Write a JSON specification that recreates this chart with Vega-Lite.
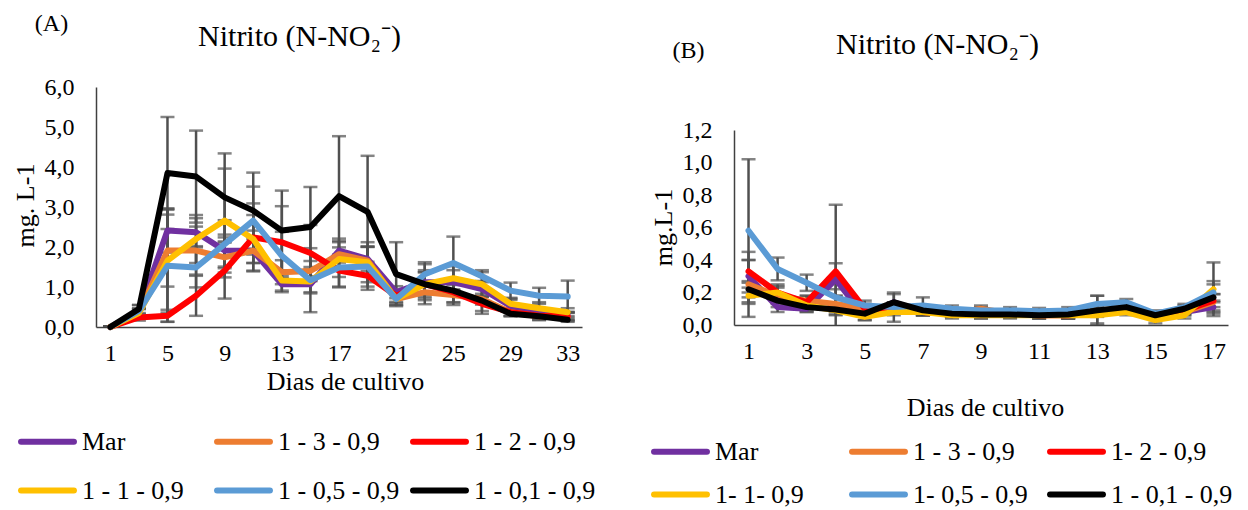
{
  "$schema": "https://vega.github.io/schema/vega-lite/v6.json",
  "background": "white",
  "padding": {"left": 12, "top": 11, "right": 0, "bottom": 0},
  "bounds": "flush",
  "spacing": 152,
  "config": {
    "font": "'Liberation Serif', 'Times New Roman', Times, serif",
    "view": {"stroke": null},
    "axis": {"grid": false, "ticks": false, "domainColor": "#404040", "domainWidth": 1.5, "labelFont": "'Liberation Serif', 'Times New Roman', Times, serif", "labelFontSize": 24, "labelColor": "#000000", "titleFont": "'Liberation Serif', 'Times New Roman', Times, serif", "titleFontSize": 26, "titleFontWeight": "normal", "titleColor": "#000000"},
    "legend": {"labelFont": "'Liberation Serif', 'Times New Roman', Times, serif", "labelFontSize": 26, "labelColor": "#000000", "labelLimit": 0}
  },
  "datasets": {
    "A": [
      {"d":1,"s":"Mar","v":0,"e":0.02},{"d":3,"s":"Mar","v":0.37,"e":0.1},{"d":5,"s":"Mar","v":2.41,"e":0.55},{"d":7,"s":"Mar","v":2.37,"e":0.35},{"d":9,"s":"Mar","v":1.91,"e":0.4},{"d":11,"s":"Mar","v":1.9,"e":0.3},{"d":13,"s":"Mar","v":1.07,"e":0.2},{"d":15,"s":"Mar","v":1.07,"e":0.2},{"d":17,"s":"Mar","v":1.91,"e":0.3},{"d":19,"s":"Mar","v":1.7,"e":0.3},{"d":21,"s":"Mar","v":0.87,"e":0.15},{"d":23,"s":"Mar","v":1.12,"e":0.25},{"d":25,"s":"Mar","v":1.12,"e":0.3},{"d":27,"s":"Mar","v":0.95,"e":0.2},{"d":29,"s":"Mar","v":0.53,"e":0.15},{"d":31,"s":"Mar","v":0.37,"e":0.1},{"d":33,"s":"Mar","v":0.28,"e":0.1},
      {"d":1,"s":"1 - 3 - 0,9","v":0,"e":0.02},{"d":3,"s":"1 - 3 - 0,9","v":0.35,"e":0.1},{"d":5,"s":"1 - 3 - 0,9","v":1.91,"e":0.9},{"d":7,"s":"1 - 3 - 0,9","v":1.91,"e":0.6},{"d":9,"s":"1 - 3 - 0,9","v":1.74,"e":0.5},{"d":11,"s":"1 - 3 - 0,9","v":1.91,"e":0.5},{"d":13,"s":"1 - 3 - 0,9","v":1.37,"e":0.3},{"d":15,"s":"1 - 3 - 0,9","v":1.4,"e":0.25},{"d":17,"s":"1 - 3 - 0,9","v":1.82,"e":0.3},{"d":19,"s":"1 - 3 - 0,9","v":1.66,"e":0.35},{"d":21,"s":"1 - 3 - 0,9","v":0.7,"e":0.1},{"d":23,"s":"1 - 3 - 0,9","v":0.87,"e":0.2},{"d":25,"s":"1 - 3 - 0,9","v":0.8,"e":0.25},{"d":27,"s":"1 - 3 - 0,9","v":0.7,"e":0.3},{"d":29,"s":"1 - 3 - 0,9","v":0.37,"e":0.1},{"d":31,"s":"1 - 3 - 0,9","v":0.27,"e":0.1},{"d":33,"s":"1 - 3 - 0,9","v":0.25,"e":0.1},
      {"d":1,"s":"1 - 2 - 0,9","v":0,"e":0.02},{"d":3,"s":"1 - 2 - 0,9","v":0.24,"e":0.08},{"d":5,"s":"1 - 2 - 0,9","v":0.28,"e":0.15},{"d":7,"s":"1 - 2 - 0,9","v":0.78,"e":0.5},{"d":9,"s":"1 - 2 - 0,9","v":1.41,"e":0.7},{"d":11,"s":"1 - 2 - 0,9","v":2.24,"e":0.85},{"d":13,"s":"1 - 2 - 0,9","v":2.12,"e":0.9},{"d":15,"s":"1 - 2 - 0,9","v":1.85,"e":0.7},{"d":17,"s":"1 - 2 - 0,9","v":1.41,"e":0.4},{"d":19,"s":"1 - 2 - 0,9","v":1.28,"e":0.35},{"d":21,"s":"1 - 2 - 0,9","v":0.78,"e":0.15},{"d":23,"s":"1 - 2 - 0,9","v":1.07,"e":0.35},{"d":25,"s":"1 - 2 - 0,9","v":0.87,"e":0.25},{"d":27,"s":"1 - 2 - 0,9","v":0.58,"e":0.25},{"d":29,"s":"1 - 2 - 0,9","v":0.37,"e":0.1},{"d":31,"s":"1 - 2 - 0,9","v":0.28,"e":0.1},{"d":33,"s":"1 - 2 - 0,9","v":0.27,"e":0.1},
      {"d":1,"s":"1 - 1 - 0,9","v":0,"e":0.02},{"d":3,"s":"1 - 1 - 0,9","v":0.35,"e":0.1},{"d":5,"s":"1 - 1 - 0,9","v":1.66,"e":1.3},{"d":7,"s":"1 - 1 - 0,9","v":2.2,"e":0.6},{"d":9,"s":"1 - 1 - 0,9","v":2.66,"e":1.3},{"d":11,"s":"1 - 1 - 0,9","v":2.2,"e":0.6},{"d":13,"s":"1 - 1 - 0,9","v":1.16,"e":0.25},{"d":15,"s":"1 - 1 - 0,9","v":1.14,"e":0.3},{"d":17,"s":"1 - 1 - 0,9","v":1.7,"e":0.45},{"d":19,"s":"1 - 1 - 0,9","v":1.62,"e":0.5},{"d":21,"s":"1 - 1 - 0,9","v":0.7,"e":0.15},{"d":23,"s":"1 - 1 - 0,9","v":1.07,"e":0.5},{"d":25,"s":"1 - 1 - 0,9","v":1.22,"e":0.3},{"d":27,"s":"1 - 1 - 0,9","v":1.07,"e":0.3},{"d":29,"s":"1 - 1 - 0,9","v":0.58,"e":0.15},{"d":31,"s":"1 - 1 - 0,9","v":0.47,"e":0.15},{"d":33,"s":"1 - 1 - 0,9","v":0.37,"e":0.1},
      {"d":1,"s":"1 - 0,5 - 0,9","v":0,"e":0.02},{"d":3,"s":"1 - 0,5 - 0,9","v":0.4,"e":0.15},{"d":5,"s":"1 - 0,5 - 0,9","v":1.53,"e":1.4},{"d":7,"s":"1 - 0,5 - 0,9","v":1.49,"e":0.5},{"d":9,"s":"1 - 0,5 - 0,9","v":2.07,"e":0.6},{"d":11,"s":"1 - 0,5 - 0,9","v":2.66,"e":0.85},{"d":13,"s":"1 - 0,5 - 0,9","v":1.78,"e":0.6},{"d":15,"s":"1 - 0,5 - 0,9","v":1.17,"e":0.8},{"d":17,"s":"1 - 0,5 - 0,9","v":1.49,"e":0.5},{"d":19,"s":"1 - 0,5 - 0,9","v":1.51,"e":0.5},{"d":21,"s":"1 - 0,5 - 0,9","v":0.7,"e":0.15},{"d":23,"s":"1 - 0,5 - 0,9","v":1.32,"e":0.3},{"d":25,"s":"1 - 0,5 - 0,9","v":1.6,"e":0.66},{"d":27,"s":"1 - 0,5 - 0,9","v":1.27,"e":0.15},{"d":29,"s":"1 - 0,5 - 0,9","v":0.91,"e":0.2},{"d":31,"s":"1 - 0,5 - 0,9","v":0.78,"e":0.2},{"d":33,"s":"1 - 0,5 - 0,9","v":0.76,"e":0.4},
      {"d":1,"s":"1 - 0,1 - 0,9","v":0,"e":0.02},{"d":3,"s":"1 - 0,1 - 0,9","v":0.45,"e":0.1},{"d":5,"s":"1 - 0,1 - 0,9","v":3.85,"e":1.4},{"d":7,"s":"1 - 0,1 - 0,9","v":3.76,"e":1.15},{"d":9,"s":"1 - 0,1 - 0,9","v":3.24,"e":1.1},{"d":11,"s":"1 - 0,1 - 0,9","v":2.91,"e":0.95},{"d":13,"s":"1 - 0,1 - 0,9","v":2.41,"e":1.0},{"d":15,"s":"1 - 0,1 - 0,9","v":2.5,"e":1.0},{"d":17,"s":"1 - 0,1 - 0,9","v":3.27,"e":1.5},{"d":19,"s":"1 - 0,1 - 0,9","v":2.88,"e":1.4},{"d":21,"s":"1 - 0,1 - 0,9","v":1.32,"e":0.8},{"d":23,"s":"1 - 0,1 - 0,9","v":1.07,"e":0.3},{"d":25,"s":"1 - 0,1 - 0,9","v":0.91,"e":0.3},{"d":27,"s":"1 - 0,1 - 0,9","v":0.66,"e":0.1},{"d":29,"s":"1 - 0,1 - 0,9","v":0.33,"e":0.05},{"d":31,"s":"1 - 0,1 - 0,9","v":0.27,"e":0.05},{"d":33,"s":"1 - 0,1 - 0,9","v":0.18,"e":0.05}
    ],
    "B": [
      {"d":1,"s":"Mar","v":0.3,"e":0.1},{"d":2,"s":"Mar","v":0.11,"e":0.03},{"d":3,"s":"Mar","v":0.1,"e":0.02},{"d":4,"s":"Mar","v":0.28,"e":0.1},{"d":5,"s":"Mar","v":0.05,"e":0.02},{"d":6,"s":"Mar","v":0.14,"e":0.05},{"d":7,"s":"Mar","v":0.08,"e":0.02},{"d":8,"s":"Mar","v":0.07,"e":0.02},{"d":9,"s":"Mar","v":0.06,"e":0.02},{"d":10,"s":"Mar","v":0.07,"e":0.02},{"d":11,"s":"Mar","v":0.07,"e":0.02},{"d":12,"s":"Mar","v":0.06,"e":0.02},{"d":13,"s":"Mar","v":0.08,"e":0.02},{"d":14,"s":"Mar","v":0.11,"e":0.02},{"d":15,"s":"Mar","v":0.05,"e":0.02},{"d":16,"s":"Mar","v":0.08,"e":0.02},{"d":17,"s":"Mar","v":0.11,"e":0.03},
      {"d":1,"s":"1 - 3 - 0,9","v":0.25,"e":0.2},{"d":2,"s":"1 - 3 - 0,9","v":0.18,"e":0.05},{"d":3,"s":"1 - 3 - 0,9","v":0.15,"e":0.03},{"d":4,"s":"1 - 3 - 0,9","v":0.13,"e":0.05},{"d":5,"s":"1 - 3 - 0,9","v":0.1,"e":0.03},{"d":6,"s":"1 - 3 - 0,9","v":0.08,"e":0.02},{"d":7,"s":"1 - 3 - 0,9","v":0.08,"e":0.02},{"d":8,"s":"1 - 3 - 0,9","v":0.07,"e":0.02},{"d":9,"s":"1 - 3 - 0,9","v":0.1,"e":0.02},{"d":10,"s":"1 - 3 - 0,9","v":0.07,"e":0.02},{"d":11,"s":"1 - 3 - 0,9","v":0.07,"e":0.02},{"d":12,"s":"1 - 3 - 0,9","v":0.06,"e":0.02},{"d":13,"s":"1 - 3 - 0,9","v":0.08,"e":0.02},{"d":14,"s":"1 - 3 - 0,9","v":0.1,"e":0.02},{"d":15,"s":"1 - 3 - 0,9","v":0.06,"e":0.02},{"d":16,"s":"1 - 3 - 0,9","v":0.08,"e":0.02},{"d":17,"s":"1 - 3 - 0,9","v":0.14,"e":0.05},
      {"d":1,"s":"1- 2 - 0,9","v":0.33,"e":0.07},{"d":2,"s":"1- 2 - 0,9","v":0.2,"e":0.04},{"d":3,"s":"1- 2 - 0,9","v":0.14,"e":0.04},{"d":4,"s":"1- 2 - 0,9","v":0.33,"e":0.41},{"d":5,"s":"1- 2 - 0,9","v":0.1,"e":0.03},{"d":6,"s":"1- 2 - 0,9","v":0.1,"e":0.02},{"d":7,"s":"1- 2 - 0,9","v":0.08,"e":0.02},{"d":8,"s":"1- 2 - 0,9","v":0.07,"e":0.02},{"d":9,"s":"1- 2 - 0,9","v":0.08,"e":0.02},{"d":10,"s":"1- 2 - 0,9","v":0.07,"e":0.02},{"d":11,"s":"1- 2 - 0,9","v":0.06,"e":0.02},{"d":12,"s":"1- 2 - 0,9","v":0.06,"e":0.02},{"d":13,"s":"1- 2 - 0,9","v":0.07,"e":0.02},{"d":14,"s":"1- 2 - 0,9","v":0.1,"e":0.02},{"d":15,"s":"1- 2 - 0,9","v":0.06,"e":0.02},{"d":16,"s":"1- 2 - 0,9","v":0.09,"e":0.02},{"d":17,"s":"1- 2 - 0,9","v":0.15,"e":0.04},
      {"d":1,"s":"1- 1- 0,9","v":0.18,"e":0.05},{"d":2,"s":"1- 1- 0,9","v":0.2,"e":0.05},{"d":3,"s":"1- 1- 0,9","v":0.12,"e":0.03},{"d":4,"s":"1- 1- 0,9","v":0.09,"e":0.03},{"d":5,"s":"1- 1- 0,9","v":0.05,"e":0.02},{"d":6,"s":"1- 1- 0,9","v":0.08,"e":0.06},{"d":7,"s":"1- 1- 0,9","v":0.08,"e":0.02},{"d":8,"s":"1- 1- 0,9","v":0.06,"e":0.02},{"d":9,"s":"1- 1- 0,9","v":0.06,"e":0.02},{"d":10,"s":"1- 1- 0,9","v":0.06,"e":0.02},{"d":11,"s":"1- 1- 0,9","v":0.06,"e":0.02},{"d":12,"s":"1- 1- 0,9","v":0.06,"e":0.02},{"d":13,"s":"1- 1- 0,9","v":0.06,"e":0.05},{"d":14,"s":"1- 1- 0,9","v":0.08,"e":0.02},{"d":15,"s":"1- 1- 0,9","v":0.03,"e":0.02},{"d":16,"s":"1- 1- 0,9","v":0.06,"e":0.02},{"d":17,"s":"1- 1- 0,9","v":0.22,"e":0.165},
      {"d":1,"s":"1- 0,5 - 0,9","v":0.58,"e":0.44},{"d":2,"s":"1- 0,5 - 0,9","v":0.345,"e":0.07},{"d":3,"s":"1- 0,5 - 0,9","v":0.26,"e":0.05},{"d":4,"s":"1- 0,5 - 0,9","v":0.17,"e":0.05},{"d":5,"s":"1- 0,5 - 0,9","v":0.12,"e":0.03},{"d":6,"s":"1- 0,5 - 0,9","v":0.11,"e":0.03},{"d":7,"s":"1- 0,5 - 0,9","v":0.12,"e":0.05},{"d":8,"s":"1- 0,5 - 0,9","v":0.1,"e":0.02},{"d":9,"s":"1- 0,5 - 0,9","v":0.09,"e":0.02},{"d":10,"s":"1- 0,5 - 0,9","v":0.09,"e":0.02},{"d":11,"s":"1- 0,5 - 0,9","v":0.085,"e":0.02},{"d":12,"s":"1- 0,5 - 0,9","v":0.09,"e":0.02},{"d":13,"s":"1- 0,5 - 0,9","v":0.13,"e":0.05},{"d":14,"s":"1- 0,5 - 0,9","v":0.14,"e":0.02},{"d":15,"s":"1- 0,5 - 0,9","v":0.07,"e":0.02},{"d":16,"s":"1- 0,5 - 0,9","v":0.11,"e":0.02},{"d":17,"s":"1- 0,5 - 0,9","v":0.2,"e":0.05},
      {"d":1,"s":"1 - 0,1 - 0,9","v":0.22,"e":0.05},{"d":2,"s":"1 - 0,1 - 0,9","v":0.15,"e":0.04},{"d":3,"s":"1 - 0,1 - 0,9","v":0.11,"e":0.03},{"d":4,"s":"1 - 0,1 - 0,9","v":0.095,"e":0.03},{"d":5,"s":"1 - 0,1 - 0,9","v":0.07,"e":0.02},{"d":6,"s":"1 - 0,1 - 0,9","v":0.14,"e":0.06},{"d":7,"s":"1 - 0,1 - 0,9","v":0.09,"e":0.03},{"d":8,"s":"1 - 0,1 - 0,9","v":0.07,"e":0.02},{"d":9,"s":"1 - 0,1 - 0,9","v":0.065,"e":0.02},{"d":10,"s":"1 - 0,1 - 0,9","v":0.065,"e":0.02},{"d":11,"s":"1 - 0,1 - 0,9","v":0.06,"e":0.02},{"d":12,"s":"1 - 0,1 - 0,9","v":0.065,"e":0.02},{"d":13,"s":"1 - 0,1 - 0,9","v":0.09,"e":0.09},{"d":14,"s":"1 - 0,1 - 0,9","v":0.11,"e":0.02},{"d":15,"s":"1 - 0,1 - 0,9","v":0.06,"e":0.02},{"d":16,"s":"1 - 0,1 - 0,9","v":0.1,"e":0.02},{"d":17,"s":"1 - 0,1 - 0,9","v":0.17,"e":0.1}
    ]
  },
  "resolve": {"scale": {"color": "independent", "x": "independent", "y": "independent"}, "legend": {"color": "independent"}},
  "hconcat": [
    {
      "width": 486,
      "height": 240,
      "data": {"name": "A"},
      "resolve": {"axis": {"x": "independent", "y": "independent"}},
      "layer": [
        {
          "mark": {"type": "errorbar", "color": "#505050", "thickness": 2.5, "ticks": {"size": 14}, "clip": true},
          "encoding": {
            "x": {"field": "d", "type": "quantitative", "scale": {"domain": [0, 34], "nice": false, "zero": false},
                  "axis": {"orient": "bottom", "values": [1, 5, 9, 13, 17, 21, 25, 29, 33], "labelPadding": 14, "title": "Dias de cultivo", "titleX": 249, "titleY": 54, "titleBaseline": "middle", "titleAlign": "center"}},
            "y": {"field": "v", "type": "quantitative", "scale": {"domain": [0, 6], "nice": false},
                  "axis": {"orient": "left", "values": [0, 1, 2, 3, 4, 5, 6], "labelPadding": 22, "labelExpr": "replace(format(datum.value, '.1f'), '.', ',')", "title": "mg. L-1", "titleX": -71, "titleY": 118, "titleAngle": 270, "titleBaseline": "middle", "titleAlign": "center"}},
            "yError": {"field": "e"}
          }
        },
        {
          "mark": {"type": "line", "strokeWidth": 6, "strokeJoin": "round", "strokeCap": "round"},
          "encoding": {
            "x": {"field": "d", "type": "quantitative", "scale": {"domain": [0, 34], "nice": false, "zero": false},
                  "axis": {"orient": "top", "labels": false, "domain": false, "ticks": false, "title": "Nitrito (N-NO₂⁻)", "titleFontSize": 30, "titleX": 203, "titleY": -51, "titleBaseline": "middle", "titleAlign": "center"}},
            "y": {"field": "v", "type": "quantitative", "scale": {"domain": [0, 6], "nice": false},
                  "axis": {"orient": "right", "labels": false, "domain": false, "ticks": false, "title": "(A)", "titleAngle": 0, "titleFontSize": 24, "titleX": -531, "titleY": -64, "titleBaseline": "middle", "titleAlign": "center"}},
            "color": {"field": "s", "type": "nominal",
                      "scale": {"domain": ["Mar", "1 - 3 - 0,9", "1 - 2 - 0,9", "1 - 1 - 0,9", "1 - 0,5 - 0,9", "1 - 0,1 - 0,9"], "range": ["#7030A0", "#ED7D31", "#FF0000", "#FFC000", "#5B9BD5", "#000000"]},
                      "legend": {"orient": "none", "legendX": -78, "legendY": 325, "direction": "horizontal", "columns": 3, "title": null, "symbolType": "stroke", "symbolSize": 2800, "symbolStrokeWidth": 6, "columnPadding": 1, "rowPadding": 6, "labelOffset": 5, "gridAlign": "all", "labelFont": "'Liberation Serif', 'Times New Roman', Times, serif", "labelFontSize": 26,
                                 "encode": {"symbols": {"update": {"strokeCap": {"value": "round"}}}}}}
          }
        }
      ]
    },
    {
      "width": 494,
      "height": 238,
      "data": {"name": "B"},
      "resolve": {"axis": {"x": "independent", "y": "independent"}},
      "layer": [
        {
          "mark": {"type": "errorbar", "color": "#505050", "thickness": 2.5, "ticks": {"size": 14}, "clip": true},
          "encoding": {
            "x": {"field": "d", "type": "quantitative", "scale": {"domain": [0.5, 17.5], "nice": false, "zero": false},
                  "axis": {"orient": "bottom", "values": [1, 3, 5, 7, 9, 11, 13, 15, 17], "labelPadding": 14, "title": "Dias de cultivo", "titleX": 251, "titleY": 82, "titleBaseline": "middle", "titleAlign": "center"}},
            "y": {"field": "v", "type": "quantitative", "scale": {"domain": [0, 1.2], "nice": false, "range": [238, 43]},
                  "axis": {"orient": "left", "values": [0, 0.2, 0.4, 0.6, 0.8, 1.0, 1.2], "labelPadding": 22, "labelExpr": "replace(format(datum.value, '.1f'), '.', ',')", "title": "mg.L-1", "titleX": -71, "titleY": 140, "titleAngle": 270, "titleBaseline": "middle", "titleAlign": "center"}},
            "yError": {"field": "e"}
          }
        },
        {
          "mark": {"type": "line", "strokeWidth": 6, "strokeJoin": "round", "strokeCap": "round"},
          "encoding": {
            "x": {"field": "d", "type": "quantitative", "scale": {"domain": [0.5, 17.5], "nice": false, "zero": false},
                  "axis": {"orient": "top", "labels": false, "domain": false, "ticks": false, "title": "Nitrito (N-NO₂⁻)", "titleFontSize": 30, "titleX": 203, "titleY": -43, "titleBaseline": "middle", "titleAlign": "center"}},
            "y": {"field": "v", "type": "quantitative", "scale": {"domain": [0, 1.2], "nice": false, "range": [238, 43]},
                  "axis": {"orient": "right", "labels": false, "domain": false, "ticks": false, "title": "(B)", "titleAngle": 0, "titleFontSize": 24, "titleX": -540, "titleY": -37, "titleBaseline": "middle", "titleAlign": "center"}},
            "color": {"field": "s", "type": "nominal",
                      "scale": {"domain": ["Mar", "1 - 3 - 0,9", "1- 2 - 0,9", "1- 1- 0,9", "1- 0,5 - 0,9", "1 - 0,1 - 0,9"], "range": ["#7030A0", "#ED7D31", "#FF0000", "#FFC000", "#5B9BD5", "#000000"]},
                      "legend": {"orient": "none", "legendX": -83, "legendY": 335, "direction": "horizontal", "columns": 3, "title": null, "symbolType": "stroke", "symbolSize": 2800, "symbolStrokeWidth": 6, "columnPadding": 3, "rowPadding": 0, "labelOffset": 5, "gridAlign": "all", "labelFont": "'Liberation Serif', 'Times New Roman', Times, serif", "labelFontSize": 26,
                                 "encode": {"symbols": {"update": {"strokeCap": {"value": "round"}}}}}}
          }
        }
      ]
    }
  ]
}
